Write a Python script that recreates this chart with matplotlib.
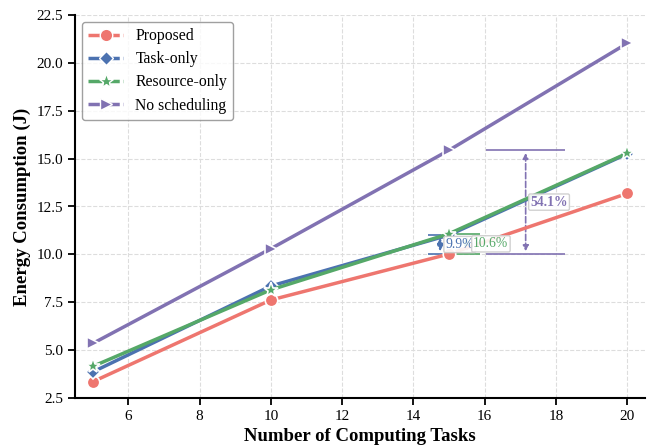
import numpy as np
import matplotlib.pyplot as plt
from matplotlib.lines import Line2D

plt.rcParams['font.family'] = ['Liberation Serif', 'DejaVu Serif']

tasks = [5, 10, 15, 20]
proposed = [3.35, 7.62, 10.02, 13.18]
task_only = [3.86, 8.35, 11.01, 15.25]
resource_only = [4.15, 8.15, 11.08, 15.28]
no_sched = [5.35, 10.30, 15.44, 21.02]

names = ["Proposed", "Task-only", "Resource-only", "No scheduling"]
series = [proposed, task_only, resource_only, no_sched]
colors = ["#EE766F", "#4C72B0", "#55A868", "#8172B2"]
markers = ["o", "D", "*", ">"]
msizes = [9, 7, 11, 9]

fig = plt.figure(figsize=(6.54, 4.48), dpi=100)
ax = fig.add_axes([75/654, 50/448, 570/654, 383/448])

for y, c, m, ms in zip(series, colors, markers, msizes):
    ax.plot(tasks, y, color=c, lw=2.5, marker=m, markersize=ms,
            markeredgecolor="white", markeredgewidth=1.2, zorder=3)

# gap annotations at 15 tasks, relative to the proposed scheme
base = proposed[2]
gaps = [(task_only[2], colors[1], 14.75, 0.35, 14.9, "normal"),
        (resource_only[2], colors[2], 15.5, 0.36, 15.68, "normal"),
        (no_sched[2], colors[3], 17.15, 1.1, 17.28, "bold")]
for top, c, xa, hw, xt, wt in gaps:
    ax.hlines([base, top], xa - hw, xa + hw, color=c, lw=1.2, zorder=2)
    ax.annotate("", xy=(xa, top), xytext=(xa, base),
                arrowprops=dict(arrowstyle="<|-|>", color=c, lw=1.2,
                                linestyle="--", mutation_scale=8), zorder=2)
    pct = (top - base) / base * 100
    ax.text(xt, (top + base) / 2, "{:.1f}%".format(pct), color=c, fontsize=9.8,
            fontweight=wt, ha="left", va="center", zorder=4,
            bbox=dict(boxstyle="round,pad=0.12", facecolor="white",
                      edgecolor="#cccccc", alpha=0.9))

ax.set_xlim(4.5, 20.5)
ax.set_ylim(2.5, 22.5)
ax.set_xticks([6, 8, 10, 12, 14, 16, 18, 20])
ax.set_yticks(np.arange(2.5, 22.6, 2.5))
ax.set_yticklabels(["{:.1f}".format(v) for v in np.arange(2.5, 22.6, 2.5)])
ax.tick_params(axis="both", labelsize=11, length=5, width=1.3, direction="out")
ax.grid(True, linestyle="--", color="#dddddd", lw=0.8, zorder=0)
ax.set_axisbelow(True)
for s in ["top", "right"]:
    ax.spines[s].set_visible(False)
for s in ["left", "bottom"]:
    ax.spines[s].set_linewidth(1.5)

ax.set_xlabel("Number of Computing Tasks", fontsize=13.5, fontweight="bold",
              labelpad=4)
ax.set_ylabel("Energy Consumption (J)", fontsize=13.5, fontweight="bold",
              labelpad=4)

handles = [Line2D([], [], color=c, lw=2.5, ls=(0, (4, 1)), marker=m,
                  markersize=ms, markeredgecolor="white", markeredgewidth=1.0)
           for c, m, ms in zip(colors, markers, msizes)]
leg = ax.legend(handles, names, loc="upper left", fontsize=11.3, frameon=True,
                edgecolor="#888888", fancybox=True, handlelength=2.2,
                handletextpad=0.8, labelspacing=0.45, borderaxespad=0.45)
leg.get_frame().set_linewidth(1.0)

fig.savefig("out.png", dpi=100)
